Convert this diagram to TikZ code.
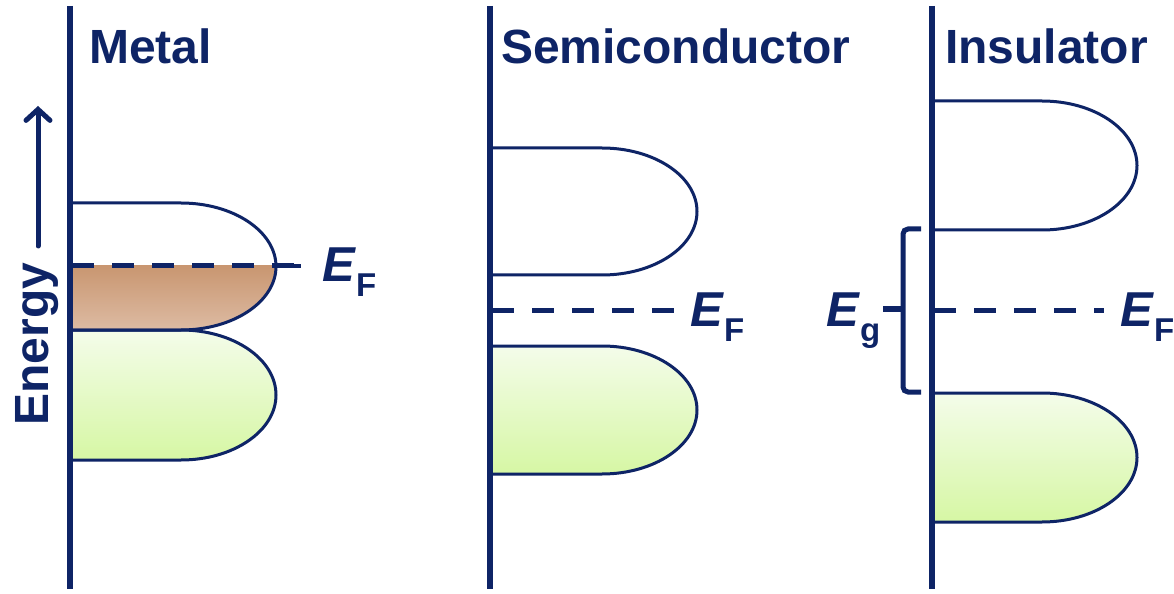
\documentclass[tikz,border=0pt]{standalone}
\usepackage{fontspec}
\setmainfont{Liberation Sans}
\usetikzlibrary{arrows.meta}
\definecolor{navy}{HTML}{0E2466}
\definecolor{gtop}{HTML}{F4FCEA}
\definecolor{gbot}{HTML}{D6F7A4}
\definecolor{btop}{HTML}{B5723F}
\definecolor{bbot}{HTML}{DDBBA3}
\tikzset{
  axisline/.style={navy, line width=6bp},
  bandline/.style={navy, line width=3bp},
  fermi/.style={navy, line width=5bp, dash pattern=on 22bp off 18bp},
  title/.style={font=\fontsize{48bp}{50bp}\selectfont\bfseries, text=navy, inner sep=0pt, anchor=base west},
  elabel/.style={font=\fontsize{49bp}{50bp}\selectfont\bfseries, text=navy, inner sep=0pt, anchor=base west},
  greenfill/.style={top color=gtop, bottom color=gbot},
}
% band: #1 x0, #2 top, #3 bottom, #4 tip x
\newcommand{\bandpath}[4]{(#1,#2) -- ({#4-95},#2) arc (-90:90:95 and {(#3-#2)/2}) -- (#1,#3)}
\newcommand{\sublabel}[1]{\textit{E}\raisebox{-0.3em}{\fontsize{33bp}{34bp}\selectfont #1}}
\begin{document}
\begin{tikzpicture}[x=1bp,y=-1bp]
\useasboundingbox[fill=white] (0,0) rectangle (1174,594);

% ---------- Metal ----------
\begin{scope}
\clip (72,266) rectangle (320,335);
\shade[top color=btop, bottom color=bbot] \bandpath{72}{203}{330}{276};
\end{scope}
\shade[greenfill] \bandpath{72}{330}{460}{276};
\draw[bandline] \bandpath{72}{203}{330}{276};
\draw[bandline] \bandpath{72}{330}{460}{276};
\coordinate (mEFa) at (72,266);
\coordinate (mEFb) at (301,266);
\draw[fermi] (mEFa) -- (mEFb);
\draw[navy, line width=4bp] (274,266) -- (mEFb);
\node[elabel] (mEF) at (322,282) {\sublabel{F}};
\coordinate (mA1) at (70,6);
\coordinate (mA2) at (70,589);
\draw[axisline] (mA1) -- (mA2);
\node[title] (mT) at (89,64) {Metal};

% Energy arrow
\coordinate (eA) at (38,246);
\coordinate (eB) at (38,106);
\draw[navy, line width=5bp, line cap=round, -{Straight Barb[length=11bp,width=24bp,line cap=round]}] (eA) -- (eB);
\node[font=\fontsize{48bp}{50bp}\selectfont\bfseries, text=navy, rotate=90, inner sep=0pt, anchor=base] (energy) at (48,344) {Energy};

% ---------- Semiconductor ----------
\shade[greenfill] \bandpath{492}{346}{474}{697};
\draw[bandline] \bandpath{492}{148}{275}{697};
\draw[bandline] \bandpath{492}{346}{474}{697};
\coordinate (sEFa) at (492,310);
\coordinate (sEFb) at (682,310);
\draw[fermi] (sEFa) -- (sEFb);
\node[elabel] (sEF) at (690,327) {\sublabel{F}};
\coordinate (sA1) at (490,6);
\coordinate (sA2) at (490,589);
\draw[axisline] (sA1) -- (sA2);
\node[title] (sT) at (501,64) {Semiconductor};

% ---------- Insulator ----------
\shade[greenfill] \bandpath{934}{393}{522}{1137};
\draw[bandline] \bandpath{934}{101}{230}{1137};
\draw[bandline] \bandpath{934}{393}{522}{1137};
\coordinate (iEFa) at (934,310);
\coordinate (iEFb) at (1104,310);
\draw[fermi] (iEFa) -- (iEFb);
\node[elabel] (iEF) at (1120,327) {\sublabel{F}};
\coordinate (iA1) at (932,6);
\coordinate (iA2) at (932,589);
\draw[axisline] (iA1) -- (iA2);
\node[title] (iT) at (945,64) {Insulator};

% brace
\coordinate (bT) at (921,229);
\coordinate (bB) at (921,392);
\coordinate (bM) at (883,309);
\draw[navy, line width=5bp, rounded corners=5bp]
  (bT) -- (903,229) -- (903,392) -- (bB);
\draw[navy, line width=5bp] (bM) -- (903,309);
\node[elabel] (iEg) at (826,327) {\sublabel{g}};
\end{tikzpicture}
\end{document}
